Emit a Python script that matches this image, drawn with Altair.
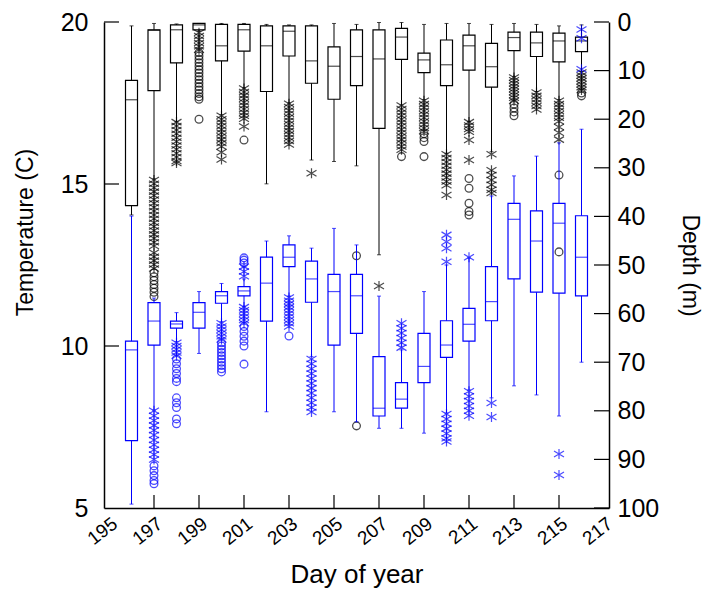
import altair as alt
import pandas as pd

FONT = "Liberation Sans"
BLUE = "#0000ff"
BLACK = "#000000"
ASTER = "M0,-1L0,1M-1,-0.6L1,0.6M-1,0.6L1,-0.6"

days = list(range(196, 217))

# Depth (m) boxes (black, right axis)
depth_top = [0.8, 0.3, 0.4, 0.3, 0.3, 0.3, 0.5, 0.6, 0.6, 0.3, 0.5, 0.1, 0.1, 0.5, 0.3, 0.3, 0.5, 0.3, 0.5, 0.8, 0.6]
depth_q1 = [12.0, 1.6, 0.6, 0.3, 0.5, 0.5, 0.8, 0.8, 0.8, 5.1, 1.6, 1.6, 1.3, 6.4, 3.7, 2.7, 4.4, 2.1, 2.1, 2.3, 3.1]
depth_med = [16.0, 1.7, 1.6, 0.6, 4.9, 1.6, 4.9, 1.9, 8.0, 9.1, 7.1, 7.6, 3.1, 7.8, 8.8, 4.9, 9.2, 3.2, 4.3, 3.9, 3.9]
depth_q3 = [37.8, 14.1, 8.4, 1.6, 8.0, 6.0, 14.3, 7.0, 12.6, 15.9, 13.1, 21.9, 7.7, 10.4, 13.1, 9.9, 13.4, 5.9, 7.1, 8.2, 6.1]
depth_bottom = [39.7, 32.3, 20.5, 1.9, 19.1, 13.6, 33.3, 16.7, 28.4, 28.7, 29.6, 47.9, 17.1, 16.0, 27.0, 20.5, 26.7, 11.3, 14.3, 16.0, 10.2]

depth_stars = {
    197: [32.5, 33.3, 34.1, 34.9, 35.7, 36.5, 37.3, 38.1, 38.9, 39.7, 40.5, 41.3, 42.1, 42.9, 43.7, 44.5, 45.3, 46.1, 47.5, 48.3, 49.1, 49.9, 50.7],
    198: [20.6, 21.4, 22.2, 23.0, 23.8, 24.6, 25.4, 26.2, 27.0, 27.8, 28.6, 29.0],
    199: [2.2, 2.9, 3.6, 4.3, 5.0, 5.7],
    200: [19.3, 20.0, 20.7, 21.4, 22.1, 22.8, 23.5, 24.2, 24.9, 25.6, 26.8, 28.3],
    201: [13.7, 14.4, 15.1, 15.8, 16.5, 17.2, 17.9, 18.6, 19.3, 19.9, 21.5],
    203: [16.8, 17.5, 18.2, 18.9, 19.6, 20.3, 21.0, 21.7, 22.4, 23.1, 23.8, 24.5, 25.2],
    204: [31.1],
    207: [54.3],
    208: [17.2, 17.9, 18.6, 19.3, 20.0, 20.7, 21.4, 22.1, 22.8, 23.5, 24.2, 24.9, 25.6, 26.3],
    209: [16.2, 16.9, 17.6, 18.3, 19.0, 19.7, 20.4, 21.1, 21.8, 22.5],
    210: [27.2, 28.0, 28.8, 29.6, 30.4, 31.2, 32.0, 32.8, 33.6, 35.6],
    211: [20.6, 21.3, 22.0, 22.6, 24.3, 28.4],
    212: [27.2, 30.5, 31.5, 32.5, 33.5, 34.5, 35.2],
    213: [11.4, 12.0, 12.6, 13.2, 13.8, 14.4, 15.0, 15.6, 16.2],
    214: [14.5, 15.2, 15.9, 16.6, 17.3, 18.0],
    215: [16.2, 16.9, 17.6, 18.3, 19.0, 19.7, 20.4, 21.6, 22.8, 24.2],
    216: [10.4, 11.0, 11.6, 12.2, 12.8, 13.4, 14.0],
}
depth_circles = {
    197: [51.6, 52.4, 53.2, 54.0, 54.8, 55.6, 56.5],
    199: [6.3, 7.0, 7.7, 8.4, 9.1, 9.8, 10.5, 11.2, 11.9, 12.6, 13.3, 14.0, 14.7, 15.4, 15.9, 20.0],
    201: [24.3],
    206: [48.1, 83.1],
    208: [27.7],
    209: [23.0, 23.8, 24.6, 27.7],
    211: [32.2, 34.2, 37.3, 39.0, 39.7],
    213: [16.9, 17.7, 18.5, 19.3],
    215: [31.5, 47.3],
    216: [14.6, 15.2],
}

# Temperature (C) boxes (blue, left axis)
temp_top = [14.01, 11.48, 11.03, 11.68, 11.93, 12.07, 13.24, 13.40, 13.02, 13.63, 13.12, 11.54, 9.88, 11.68, 12.50, 12.72, 14.63, 15.25, 15.86, 16.27, 16.69]
temp_q3 = [10.15, 11.34, 10.77, 11.34, 11.68, 11.83, 12.74, 13.12, 12.62, 12.21, 12.21, 9.67, 8.87, 10.39, 10.78, 11.16, 12.45, 14.40, 14.17, 14.40, 14.02]
temp_med = [9.88, 10.77, 10.68, 11.04, 11.55, 11.70, 11.94, 12.74, 12.07, 11.68, 11.55, 8.08, 8.36, 9.37, 10.03, 10.67, 11.37, 13.91, 13.24, 13.79, 12.74]
temp_q1 = [7.08, 10.03, 10.55, 10.55, 11.32, 11.55, 10.77, 12.45, 11.35, 10.03, 10.39, 7.84, 8.08, 8.87, 9.65, 10.15, 10.78, 12.07, 11.66, 11.63, 11.55]
temp_low = [5.12, 8.02, 10.13, 9.77, 10.75, 11.21, 7.97, 11.54, 9.67, 7.97, 7.66, 7.46, 7.46, 7.31, 7.93, 8.64, 8.40, 8.77, 8.49, 7.84, 9.50]

temp_stars = {
    197: [8.0, 7.85, 7.7, 7.55, 7.4, 7.25, 7.1, 6.95, 6.8, 6.65, 6.5],
    198: [10.1, 10.0, 9.9, 9.8, 9.7],
    200: [10.7, 10.6, 10.5, 10.4, 10.3, 10.2],
    201: [12.15, 12.3, 12.45, 11.2, 11.1, 11.0, 10.9, 10.8, 10.7],
    203: [11.5, 11.4, 11.3, 11.2, 11.1, 11.0, 10.9, 10.8, 10.7, 10.6],
    204: [9.6, 9.45, 9.3, 9.15, 9.0, 8.85, 8.7, 8.55, 8.4, 8.25, 8.1, 7.96],
    208: [10.7, 10.55, 10.4, 10.25, 10.1, 9.95],
    210: [13.43, 13.22, 13.02, 12.6, 7.9, 7.75, 7.6, 7.45, 7.3, 7.15, 7.05],
    211: [12.74, 8.6, 8.45, 8.3, 8.15, 8.0, 7.85],
    212: [8.24, 7.81],
    215: [6.67, 6.02],
    216: [19.77, 19.5, 18.54],
}
temp_circles = {
    197: [6.3, 6.15, 6.0, 5.85, 5.75],
    198: [9.6, 9.45, 9.3, 9.15, 9.0, 8.9, 8.4, 8.25, 8.1, 7.75, 7.6],
    200: [10.1, 10.0, 9.9, 9.8, 9.7, 9.6, 9.5, 9.4, 9.3, 9.2],
    201: [12.56, 12.65, 12.72, 10.6, 10.45, 10.3, 10.15, 10.0, 9.44],
    203: [10.31],
}

day_ticks = list(range(197, 217, 2))
day_labels = list(range(195, 218, 2))
temp_ticks = [10, 15, 20]
temp_labels = [5, 10, 15, 20]
depth_ticks = list(range(0, 101, 10))

W, H = 505, 486


def long_df(d):
    rows = [(k, v) for k, vals in d.items() for v in vals]
    return pd.DataFrame(rows, columns=["day", "v"])


xscale = alt.Scale(domain=[195, 217], nice=False, zero=False)
xaxis = alt.Axis(values=day_labels, ticks=False, tickSize=0, labelAngle=322, labelAlign="right",
                 labelBaseline="top", labelPadding=6, labelFontSize=19, labelFont=FONT,
                 labelColor=BLACK, labelOverlap=False, labelFlush=False, format="d",
                 domainColor=BLACK, domainWidth=1.5, grid=False,
                 title="Day of year", titleFont=FONT, titleFontSize=26, titleFontWeight="normal",
                 titleColor=BLACK, titleX=W / 2, titleY=74, titleAlign="center",
                 titleBaseline="alphabetic")


def X():
    return alt.X("day:Q", scale=xscale, axis=xaxis)


# ---------- temperature group ----------
tscale = alt.Scale(domain=[5, 20], nice=False, zero=False)
taxis = alt.Axis(orient="left", values=temp_labels, ticks=False, tickSize=0, labelFontSize=25,
                 labelFont=FONT, labelColor=BLACK, labelPadding=16, labelFlush=False,
                 labelOverlap=False, domainColor=BLACK, domainWidth=1.5, grid=False,
                 title="Temperature (C)", titleFont=FONT, titleFontSize=23,
                 titleFontWeight="normal", titleColor=BLACK, titleAngle=270, titleX=-72,
                 titleY=210, titleAlign="center", titleBaseline="alphabetic")


def TY(field):
    return alt.Y(field, type="quantitative", scale=tscale, axis=taxis)


tdf = pd.DataFrame({"day": days, "top": temp_top, "q3": temp_q3, "med": temp_med,
                    "q1": temp_q1, "low": temp_low})
tb = alt.Chart(tdf)
t_layers = [
    tb.mark_rule(color=BLUE, strokeWidth=1).encode(x=X(), y=TY("top"), y2="q3"),
    tb.mark_rule(color=BLUE, strokeWidth=1).encode(x=X(), y=TY("q1"), y2="low"),
    tb.mark_bar(width=12, filled=False, color=BLUE, strokeWidth=1.2).encode(x=X(), y=TY("q3"), y2="q1"),
    tb.mark_tick(orient="horizontal", size=12, thickness=1.2, color=BLUE).encode(x=X(), y=TY("med")),
    tb.mark_tick(orient="horizontal", size=4, thickness=1, color=BLUE).encode(x=X(), y=TY("top")),
    tb.mark_tick(orient="horizontal", size=4, thickness=1, color=BLUE).encode(x=X(), y=TY("low")),
    alt.Chart(long_df(temp_stars)).mark_point(shape=ASTER, size=100, filled=False, color=BLUE,
                                              strokeWidth=1.2).encode(x=X(), y=TY("v")),
    alt.Chart(long_df(temp_circles)).mark_point(shape="circle", size=60, filled=False, color=BLUE,
                                                strokeWidth=1.3).encode(x=X(), y=TY("v")),
    alt.Chart(pd.DataFrame({"v": temp_ticks})).mark_rule(color=BLACK, strokeWidth=1.2).encode(
        y=TY("v"), x=alt.value(0), x2=alt.value(15)),
]
temp_group = alt.layer(*t_layers)

# ---------- depth group ----------
dscale = alt.Scale(domain=[0, 100], nice=False, zero=False, reverse=True)
daxis = alt.Axis(orient="right", values=depth_ticks, ticks=False, tickSize=0, labelFontSize=25,
                 labelFont=FONT, labelColor=BLACK, labelPadding=8, labelFlush=False,
                 labelOverlap=False, domainColor=BLACK, domainWidth=1.5, grid=False,
                 title="Depth (m)", titleFont=FONT, titleFontSize=23, titleFontWeight="normal",
                 titleColor=BLACK, titleAngle=90, titleX=73, titleY=H / 2, titleAlign="center",
                 titleBaseline="alphabetic")


def DY(field):
    return alt.Y(field, type="quantitative", scale=dscale, axis=daxis)


ddf = pd.DataFrame({"day": days, "top": depth_top, "q1": depth_q1, "med": depth_med,
                    "q3": depth_q3, "bottom": depth_bottom})
db = alt.Chart(ddf)
d_layers = [
    db.mark_rule(color=BLACK, strokeWidth=1).encode(x=X(), y=DY("top"), y2="q1"),
    db.mark_rule(color=BLACK, strokeWidth=1).encode(x=X(), y=DY("q3"), y2="bottom"),
    db.mark_bar(width=12, filled=False, color=BLACK, strokeWidth=1.2).encode(x=X(), y=DY("q1"), y2="q3"),
    db.mark_tick(orient="horizontal", size=12, thickness=1.2, color=BLACK).encode(x=X(), y=DY("med")),
    db.mark_tick(orient="horizontal", size=4, thickness=1, color=BLACK).encode(x=X(), y=DY("top")),
    db.mark_tick(orient="horizontal", size=4, thickness=1, color=BLACK).encode(x=X(), y=DY("bottom")),
    alt.Chart(long_df(depth_stars)).mark_point(shape=ASTER, size=100, filled=False, color=BLACK,
                                               strokeWidth=1.2).encode(x=X(), y=DY("v")),
    alt.Chart(long_df(depth_circles)).mark_point(shape="circle", size=60, filled=False, color=BLACK,
                                                 strokeWidth=1.3).encode(x=X(), y=DY("v")),
    alt.Chart(pd.DataFrame({"v": depth_ticks})).mark_rule(color=BLACK, strokeWidth=1.2).encode(
        y=DY("v"), x=alt.value(W - 15), x2=alt.value(W)),
    alt.Chart(pd.DataFrame({"day": day_ticks})).mark_rule(color=BLACK, strokeWidth=1.2).encode(
        x=X(), y=alt.value(H - 13), y2=alt.value(H)),
]
depth_group = alt.layer(*d_layers)

chart = (
    alt.layer(depth_group, temp_group)
    .resolve_scale(y="independent")
    .properties(width=W, height=H, autosize=alt.AutoSizeParams(type="none"),
                padding={"left": 96, "top": 14, "right": 97, "bottom": 80}, background="white")
    .configure_view(strokeWidth=0)
)

chart.save("out.html", embed_options={"renderer": "svg", "actions": False})
